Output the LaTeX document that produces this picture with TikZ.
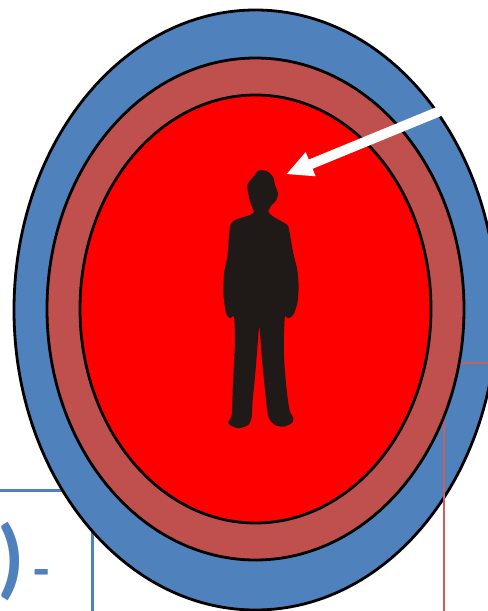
\documentclass[tikz,border=0pt]{standalone}
\usepackage{fontspec}
\setmainfont{Carlito}
\usepackage{tikz}
\usetikzlibrary{arrows.meta}
\definecolor{ringblue}{HTML}{4F81BD}
\definecolor{ringbrown}{HTML}{C0504D}
\definecolor{figdark}{HTML}{1F1A17}
\begin{document}
\begin{tikzpicture}[x=0.75pt, y=-0.75pt,
  ring/.style={draw=black, line width=2.1pt},
  boxline/.style={line width=1.9pt},
  bigmark/.style={font=\fontsize{66pt}{66pt}\selectfont\bfseries, inner sep=0pt}]
  \clip (0,0) rectangle (488,611);
  \draw[boxline, ringblue] (-10,490.5) -- (92.5,490.5) -- (92.5,620);
  \filldraw[ring, fill=ringblue] (255.5,310) ellipse [x radius=241.5, y radius=300];
  \draw[boxline, ringbrown!90!white] (520,363) -- (444,363) -- (444,620);
  \filldraw[ring, fill=ringbrown] (255.5,309) ellipse [x radius=208.5, y radius=251];
  \filldraw[ring, fill=red] (255.5,309) ellipse [x radius=175.5, y radius=214];
  \fill[figdark] plot[smooth cycle, tension=0.4] coordinates {
    (261.7,170) (268.3,172) (273.3,177.3) (275,185) (278,193.3) (276,200.7) (271.7,205)
    (268.3,211.7) (273.3,216.7) (287.3,225) (290,235) (293.3,253.3) (297.3,270) (298.7,286.7)
    (298.3,293.3) (297.3,303.3) (293.3,315) (288.3,318.3) (285,316.7) (284,333.3) (284,356.7)
    (286,383.3) (288.3,403.3) (290,411.7) (293.3,418.3) (291.7,423.3) (283.3,426.7) (275,425)
    (268.3,416.7) (265,390) (261.7,356.7) (259.3,326.7) (256.7,356.7) (255,376.7) (252.7,400)
    (251.7,416.7) (248.3,425) (238.3,428.3) (230,425) (228.3,421.7) (231.7,415) (232.7,390)
    (234,363.3) (235,340) (234,316.7) (230,318.3) (226,313.3) (224,300) (223.3,293.3)
    (224,273.3) (227.3,256.7) (230,226.7) (235,220) (250,215) (254,211.7) (250,201.7)
    (247.3,185) (255,175) (256.7,171.7)};
  \coordinate (arrowstart) at (445,109);
  \coordinate (arrowtip) at (286,174.3);
  \draw[white, line width=7.5pt, -{Triangle[length=20pt, width=18pt]}] (arrowstart) -- (arrowtip);
  \node[bigmark, ringblue, anchor=east] (bluebracket) at (25,561) {)};
  \node[ringblue, font=\fontsize{40pt}{40pt}\selectfont\bfseries, inner sep=0pt] (bluedash) at (41.5,579) {-};
  \node[bigmark, ringbrown, anchor=west] (brownbracket) at (483,425) {(};
\end{tikzpicture}
\end{document}
